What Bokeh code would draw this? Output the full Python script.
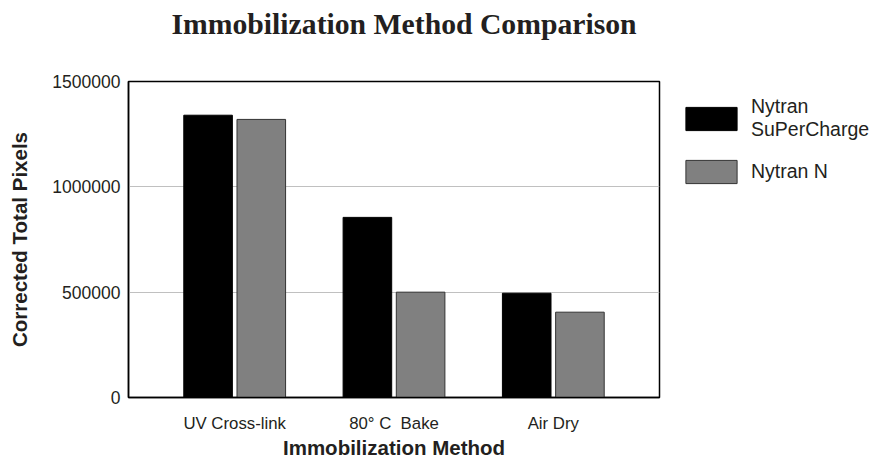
from bokeh.plotting import figure
from bokeh.models import (ColumnDataSource, FactorRange, FixedTicker, Legend, LegendItem,
                          BasicTickFormatter, Title)
from bokeh.transform import dodge
from bokeh.embed import file_html
from bokeh.resources import INLINE

categories = ["UV Cross-link", "80\u00b0 C\u00a0 Bake", "Air Dry"]
supercharge = [1340000, 855000, 495000]
nytran_n = [1320000, 500000, 405000]
y_ticks = [0, 500000, 1000000, 1500000]
title_text = "Immobilization Method Comparison"

src = ColumnDataSource(dict(cat=categories, sc=supercharge, nn=nytran_n))

p = figure(x_range=FactorRange(*categories, range_padding=0.111),
           y_range=(0, 1500000),
           frame_width=531, frame_height=316,
           min_border_left=128, min_border_top=81, min_border_right=223, min_border_bottom=56,
           output_backend="svg", toolbar_location=None)

# trailing empty line lifts the title away from the frame
p.title = Title(text=title_text + "\n", align="left", offset=43, standoff=6,
                text_font="Liberation Serif", text_font_size="29.7px", text_font_style="bold",
                text_line_height=1.2, text_color="#231f20")

r1 = p.vbar(x=dodge("cat", -0.167, range=p.x_range), top="sc", width=0.305, source=src,
            fill_color="#000000", line_color="#000000", line_width=1)
r2 = p.vbar(x=dodge("cat", 0.167, range=p.x_range), top="nn", width=0.305, source=src,
            fill_color="#808080", line_color="#333333", line_width=1)

p.outline_line_color = "#000000"
p.outline_line_width = 1.5
p.outline_line_alpha = 1.0

p.xgrid.grid_line_color = None
p.ygrid.grid_line_color = "#c0c0c0"
p.ygrid.grid_line_width = 1.2

p.yaxis.ticker = FixedTicker(ticks=y_ticks)
p.yaxis.formatter = BasicTickFormatter(use_scientific=False)
for ax in (p.xaxis[0], p.yaxis[0]):
    ax.axis_line_color = "#000000"
    ax.axis_line_width = 1.5
    ax.major_tick_line_color = None
    ax.minor_tick_line_color = None
    ax.major_tick_in = 0
    ax.major_tick_out = 0
    ax.major_label_text_font = "Liberation Sans"
    ax.major_label_text_color = "#231f20"
    ax.axis_label_text_font = "Liberation Sans"
    ax.axis_label_text_font_style = "bold"
    ax.axis_label_text_color = "#231f20"

p.yaxis.major_label_text_font_size = "17.5px"
p.yaxis.major_label_standoff = 8
p.yaxis.axis_label = "Corrected Total Pixels"
p.yaxis.axis_label_text_font_size = "20.5px"
p.yaxis.axis_label_standoff = 18

p.xaxis.major_label_text_font_size = "16.8px"
p.xaxis.major_label_standoff = 16
p.xaxis.axis_label = "Immobilization Method"
p.xaxis.axis_label_text_font_size = "20.5px"
p.xaxis.axis_label_standoff = 0

legend = Legend(items=[LegendItem(label="Nytran\nSuPerCharge", renderers=[r1]),
                       LegendItem(label="Nytran N", renderers=[r2])],
                location=(20, 211), border_line_color=None, background_fill_alpha=0,
                glyph_width=64, glyph_height=29, label_standoff=8,
                label_text_font="Liberation Sans", label_text_font_size="19.5px",
                label_text_line_height=1.25,
                label_text_color="#231f20", label_height=24,
                spacing=16, margin=0, padding=10)
p.add_layout(legend, "right")

open("out.html", "w").write(file_html(p, INLINE))
